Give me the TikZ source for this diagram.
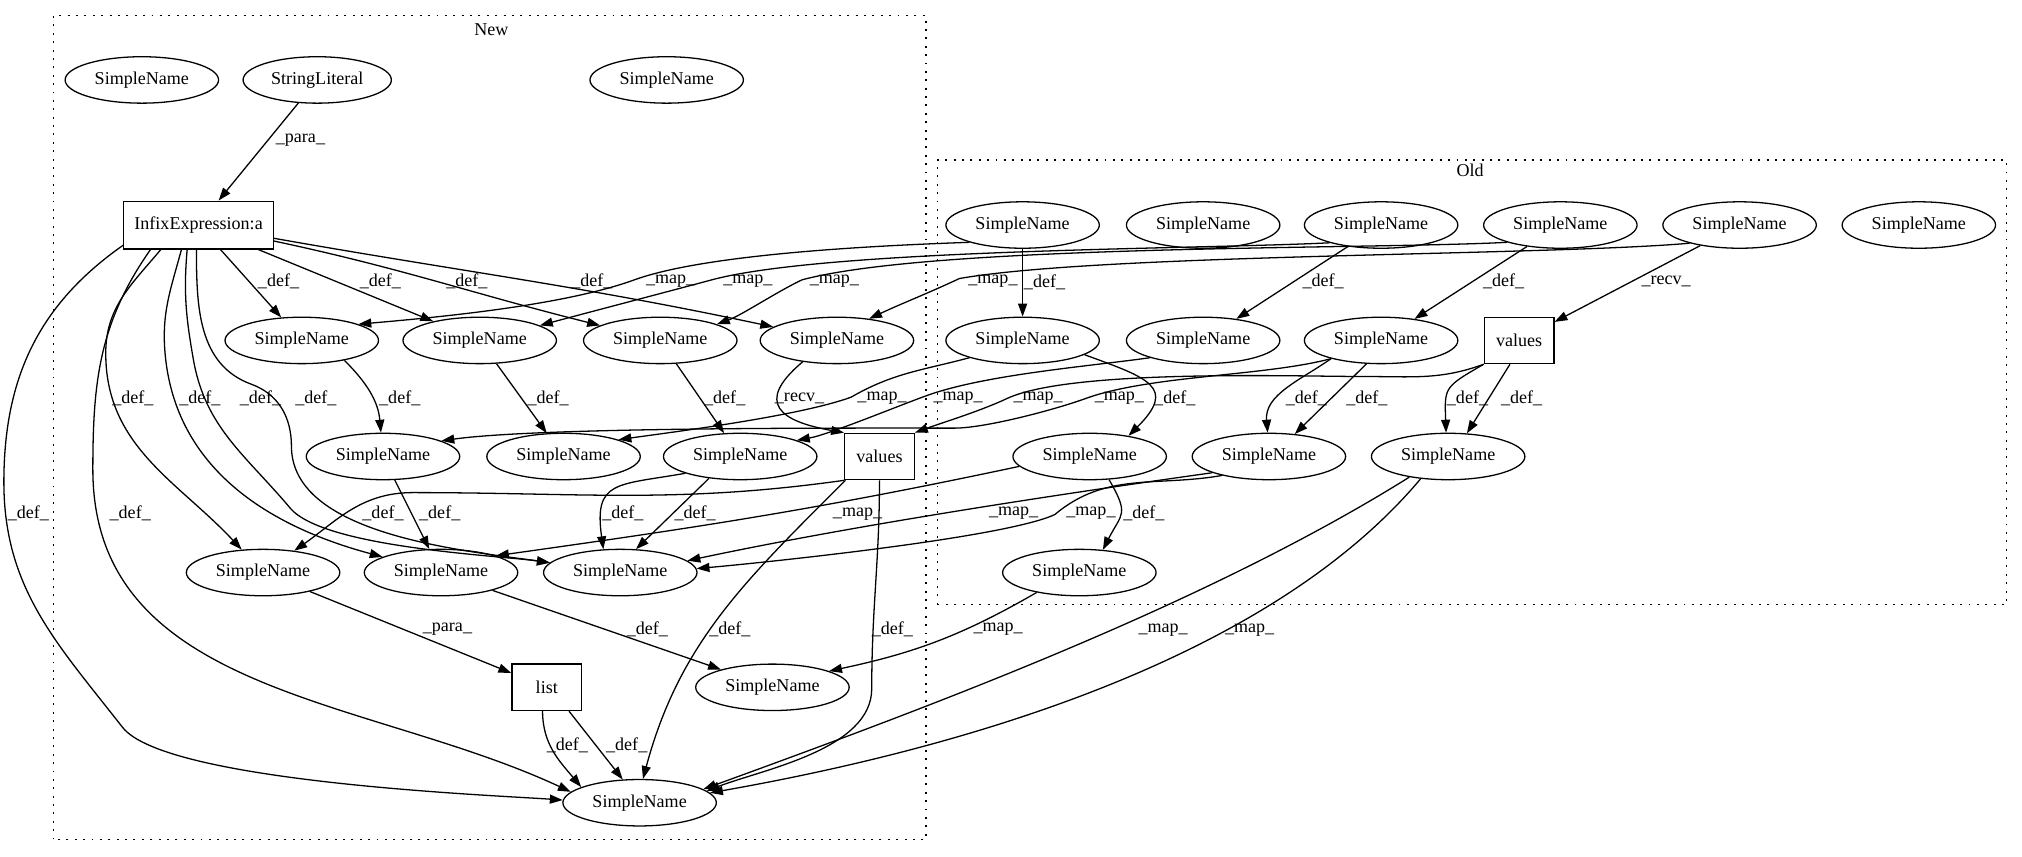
\documentclass[tikz,border=0pt]{standalone}
\usepackage{fontspec}
\setmainfont{Liberation Serif}
\usetikzlibrary{shapes.geometric,arrows.meta}
\begin{document}
\begin{tikzpicture}[x=1pt,y=1pt,
every node/.style={font=\fontsize{14pt}{16pt}\selectfont},
sname/.style={ellipse,draw,line width=1pt,minimum width=119pt,minimum height=36pt,inner sep=0pt},
opbox/.style={rectangle,draw,line width=1pt,minimum width=54pt,minimum height=36pt,inner sep=0pt},
edge/.style={line width=1pt,-{Triangle[length=10pt,width=7pt]}},
lbl/.style={inner sep=0pt},
cluster/.style={line width=1pt,dash pattern=on 1.5pt off 5pt}]
\useasboundingbox (0,0) rectangle (1568,664);
\draw[cluster] (41.5,13) rectangle (718,652);
\node (lnew) at (381,641){New};
\draw[cluster] (727,195) rectangle (1556,540);
\node (lold) at (1140,532){Old};
\node[sname] (nsn0) at (110,602){SimpleName};
\node[sname,minimum width=115pt] (nstr) at (246,602){StringLiteral};
\node[sname] (nsn1) at (517,602){SimpleName};
\node[opbox,minimum width=116pt,minimum height=37pt] (ninfix) at (154,489.5){InfixExpression:a};
\node[sname] (na1) at (234,400){SimpleName};
\node[sname] (na2) at (372,400){SimpleName};
\node[sname] (na3) at (512,400){SimpleName};
\node[sname] (na4) at (649,400){SimpleName};
\node[sname] (nb1) at (297,310){SimpleName};
\node[sname] (nb2) at (437,310){SimpleName};
\node[sname] (nb3) at (574,310){SimpleName};
\node[opbox] (nval) at (682,310){values};
\node[sname] (nc1) at (204,220){SimpleName};
\node[sname] (nc2) at (342,220){SimpleName};
\node[sname] (nc3) at (481,220){SimpleName};
\node[opbox] (nlist) at (424,131){list};
\node[sname] (nd1) at (599,131){SimpleName};
\node[sname] (nbot) at (496,41.5){SimpleName};
\node[sname] (ot1) at (793,489.5){SimpleName};
\node[sname] (ot2) at (933,489.5){SimpleName};
\node[sname] (ot3) at (1071,489.5){SimpleName};
\node[sname] (ot4) at (1210,489.5){SimpleName};
\node[sname] (ot5) at (1349,489.5){SimpleName};
\node[sname] (ot6) at (1488,489.5){SimpleName};
\node[sname] (oa1) at (793,400){SimpleName};
\node[sname] (oa2) at (933,400){SimpleName};
\node[sname] (oa3) at (1071,400){SimpleName};
\node[opbox] (oval) at (1178,400){values};
\node[sname] (ob1) at (845,310){SimpleName};
\node[sname] (ob2) at (984,310){SimpleName};
\node[sname] (ob3) at (1123,310){SimpleName};
\node[sname] (oc1) at (837,220){SimpleName};
\draw[edge](nstr) -- (ninfix) node[lbl] at (233,555){\_para\_};
\draw[edge](ninfix) -- (na1) node[lbl] at (216,446){\_def\_};
\draw[edge](ninfix) -- (na2) node[lbl] at (295,446){\_def\_};
\draw[edge](ninfix.-12) to[out=-12,in=166] (na3) node[lbl] at (362,446){\_def\_};
\draw[edge](ninfix.-10) to[out=-10,in=168] (na4) node[lbl] at (459,446){\_def\_};
\draw[edge](ninfix.-147) to[out=-130,in=90] (82,390) to[out=-90,in=133] (nc1) node[lbl] at (103,355){\_def\_};
\draw[edge](ninfix.-125) to[out=-105,in=95] (128,390) to[out=-85,in=165] (nc2) node[lbl] at (155,355){\_def\_};
\draw[edge](ninfix.-115) to[out=-95,in=100] (150,385) to[out=-80,in=130] (225,270) to[out=-50,in=172,looseness=0.5] (nc3) node[lbl] at (202,355){\_def\_};
\draw[edge](ninfix.-95) to[out=-90,in=160] (195,366) to[out=-20,in=90] (226,318) to[out=-90,in=172,looseness=0.8] (nc3) node[lbl] at (245,355){\_def\_};
\draw[edge](ninfix.-153) to[out=-125,in=90] (72,300) to[out=-90,in=155] (nbot.171) node[lbl] at (101,266){\_def\_};
\draw[edge](ninfix.-165) to[out=-145,in=90] (3,290) to[out=-90,in=128] (95,100) to[out=-52,in=176,looseness=0.4] (nbot.178) node[lbl] at (22,266){\_def\_};
\draw[edge](na1.-25) to[out=-45,in=95] (nb1) node[lbl] at (310,355){\_def\_};
\draw[edge](na2) -- (nb2) node[lbl] at (425,355){\_def\_};
\draw[edge](na3) -- (nb3) node[lbl] at (562,355){\_def\_};
\draw[edge](na4.-148) to[out=-140,in=170,looseness=2] (nval.north west) node[lbl] at (620,355){\_recv\_};
\draw[edge](nb1) -- (nc2) node[lbl] at (341,266){\_def\_};
\draw[edge](nb3.-163) to[out=-170,in=98,looseness=1.6] (nc3.126) node[lbl] at (483,266){\_def\_};
\draw[edge](nb3.-145) -- (nc3.56) node[lbl] at (539,266){\_def\_};
\draw[edge](nval.south west) to[out=-172,in=0] (320,282) to[out=180,in=35] (nc1.35) node[lbl] at (297,266){\_def\_};
\draw[edge](nval.-145) to[out=-135,in=75] (nbot.82) node[lbl] at (566,176){\_def\_};
\draw[edge](nval.-90) to[out=-90,in=90] (676,130) to[out=-90,in=21,looseness=0.8] (nbot.10) node[lbl] at (692,176){\_def\_};
\draw[edge](nc1) -- (nlist) node[lbl] at (347,176){\_para\_};
\draw[edge](nc2) -- (nd1) node[lbl] at (502,176){\_def\_};
\draw[edge](nlist.-100) to[out=-90,in=130] (nbot.165) node[lbl] at (440,86){\_def\_};
\draw[edge](nlist.-47) -- (nbot.126) node[lbl] at (486,86){\_def\_};
\draw[edge](ot1) -- (oa1) node[lbl] at (810,445){\_def\_};
\draw[edge](ot3) -- (oa2) node[lbl] at (1026,446){\_def\_};
\draw[edge](ot4) -- (oa3) node[lbl] at (1166,446){\_def\_};
\draw[edge](ot5) -- (oval) node[lbl] at (1292,446){\_recv\_};
\draw[edge](oa1.-13) to[out=-20,in=45,looseness=1.9] (ob1.28) node[lbl] at (911,355){\_def\_};
\draw[edge](oa3.-160) to[out=-145,in=95] (ob2.93) node[lbl] at (1013,355){\_def\_};
\draw[edge](oa3.-122) -- (ob2.41) node[lbl] at (1060,355){\_def\_};
\draw[edge](oval.south west) to[out=-150,in=92,looseness=1.5] (ob3.95) node[lbl] at (1138,355){\_def\_};
\draw[edge](oval.-111) -- (ob3.51) node[lbl] at (1180,355){\_def\_};
\draw[edge](ob1.-50) to[out=-60,in=63,looseness=1.5] (oc1.44) node[lbl] at (887,266){\_def\_};
\draw[edge](ot1.-162) to[out=182,in=20,looseness=0.6] (492,447) to[out=200,in=5,looseness=0.7] (na1.16) node[lbl] at (520,446){\_map\_};
\draw[edge](ot3.-161) to[out=183,in=15,looseness=0.5] (552,447) to[out=195,in=15,looseness=0.7] (na2.14) node[lbl] at (580,446){\_map\_};
\draw[edge](ot4.-162) to[out=183,in=15,looseness=0.5] (622,447) to[out=205,in=20,looseness=0.7] (na3.16) node[lbl] at (647,446){\_map\_};
\draw[edge](ot5.-160) to[out=185,in=10,looseness=0.5] (744,448) to[out=205,in=25] (na4.34) node[lbl] at (770,446){\_map\_};
\draw[edge](oa1.-162) to[out=195,in=30] (660,356) to[out=200,in=8,looseness=0.6] (nb2.17) node[lbl] at (684,355){\_map\_};
\draw[edge](oa2.-162) to[out=188,in=20,looseness=0.7] (718,357) to[out=200,in=10,looseness=0.6] (nb3.16) node[lbl] at (743,355){\_map\_};
\draw[edge](oval.south west) to[out=200,in=0] (1060,372) to[out=180,in=25,looseness=0.5] (781,355) to[out=205,in=20,looseness=0.8] (nval.north east) node[lbl] at (805,355){\_map\_};
\draw[edge](oa3.-160) to[out=195,in=20,looseness=0.7] (842,355) to[out=200,in=0,looseness=0.6] (740,332) to[out=180,in=8,looseness=0.5] (nb1.15) node[lbl] at (868,355){\_map\_};
\draw[edge](ob1.-172) to[out=192,in=8] (nc2.17) node[lbl] at (665,265){\_map\_};
\draw[edge](ob2.-164) to[out=188,in=12,looseness=0.8] (nc3.10) node[lbl] at (786,266){\_map\_};
\draw[edge](ob2.-158) to[out=190,in=40] (818,265) to[out=205,in=5,looseness=0.4] (nc3.3) node[lbl] at (846,266){\_map\_};
\draw[edge](oc1.-155) to[out=-150,in=12] (nd1.16) node[lbl] at (774,176){\_map\_};
\draw[edge](ob3.-152) to[out=-148,in=20,looseness=0.8] (nbot.12) node[lbl] at (902,175){\_map\_};
\draw[edge](ob3.-141) to[out=-130,in=10,looseness=0.8] (nbot.8) node[lbl] at (969,175){\_map\_};
\end{tikzpicture}
\end{document}
